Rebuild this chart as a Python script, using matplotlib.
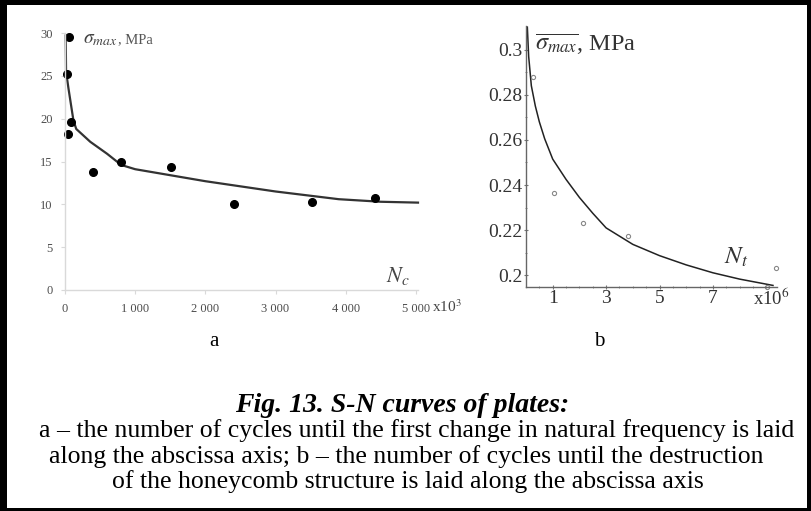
import matplotlib
matplotlib.use("Agg")
import matplotlib.pyplot as plt
from matplotlib.patches import Rectangle

plt.rcParams['font.family'] = ['Liberation Serif', 'DejaVu Serif']
plt.rcParams['mathtext.fontset'] = 'stix'

# panel a: cycles until first change in natural frequency (x10^3)
a_pts_x = [60, 30, 90, 40, 395, 800, 1505, 2410, 3515, 4420]
a_pts_y = [29.5, 25.2, 19.6, 18.2, 13.8, 14.9, 14.4, 10.0, 10.3, 10.7]
a_curve_x = [10, 15, 50, 120, 160, 360, 600, 800, 1000, 2000, 3000, 3900, 4500, 5030]
a_curve_y = [29.7, 25.5, 23.5, 19.8, 18.8, 17.3, 15.9, 14.6, 14.1, 12.7, 11.5, 10.6, 10.3, 10.2]
a_xticks = [0, 1000, 2000, 3000, 4000, 5000]
a_xlabels = ['0', '1 000', '2 000', '3 000', '4 000', '5 000']
a_yticks = [0, 5, 10, 15, 20, 25, 30]

# panel b: cycles until destruction (x10^6)
b_pts_x = [0.25, 1.04, 2.15, 3.82, 9.35, 9.04]
b_pts_y = [0.2879, 0.2363, 0.2233, 0.2173, 0.2032, 0.1946]
b_curve_x = [0.05, 0.1, 0.2, 0.35, 0.5, 0.7, 1.0, 1.5, 2.0, 2.5, 3.0, 4.0, 5.0, 6.0, 7.0, 8.0, 9.25]
b_curve_y = [0.310, 0.297, 0.284, 0.275, 0.268, 0.2605, 0.2515, 0.2425, 0.2345, 0.2275,
             0.2210, 0.2137, 0.2087, 0.2046, 0.2011, 0.1983, 0.1955]
b_xticks = [1, 3, 5, 7]
b_yticks = [0.2, 0.22, 0.24, 0.26, 0.28, 0.3]
b_ylabels = ['0.2', '0.22', '0.24', '0.26', '0.28', '0.3']

W, H = 811, 511
fig = plt.figure(figsize=(W / 100, H / 100), dpi=100)


def px(x0, y0, x1, y1):
    # pixel box -> figure fraction rect
    return [x0 / W, 1 - y1 / H, (x1 - x0) / W, (y1 - y0) / H]


# --- panel a ---
ax1 = fig.add_axes(px(65, 33, 418, 290))
ax1.plot(a_curve_x, a_curve_y, color='#333333', lw=1.6, clip_on=False)
ax1.plot(a_pts_x, a_pts_y, 'o', color='black', ms=5.5, clip_on=False)
ax1.set_xlim(0, 5030)
ax1.set_ylim(0, 30)
ax1.set_xticks(a_xticks)
ax1.set_xticklabels(a_xlabels)
ax1.set_yticks(a_yticks)
for s in ['top', 'right']:
    ax1.spines[s].set_visible(False)
for s in ['left', 'bottom']:
    ax1.spines[s].set_color('#d9d9d9')
    ax1.spines[s].set_linewidth(1.0)
ax1.tick_params(colors='#d9d9d9', labelcolor='#4d4d4d', labelsize=9, length=3, pad=6)
ax1.text(250, 29.2, r'$\sigma_{max}$', fontsize=14, color='#444444', va='center')
ax1.text(760, 29.2, ', MPa', fontsize=10.5, color='#555555', va='center')
ax1.text(4750, 1.6, r'$N_c$', fontsize=16, color='#444444', ha='center', va='center')
fig.text(432 / W, 1 - 307 / H, r'x10$^3$', fontsize=11, color='#444444', va='center')

# --- panel b ---
ax2 = fig.add_axes(px(526, 26, 777, 287))
ax2.plot(b_curve_x, b_curve_y, color='#222222', lw=1.1)
ax2.plot(b_pts_x, b_pts_y, 'o', mfc='none', mec='#888888', ms=3, mew=0.8, clip_on=False)
ax2.set_xlim(0, 9.4)
ax2.set_ylim(0.1948, 0.3105)
ax2.set_xticks(b_xticks)
ax2.set_xticks([v * 0.5 for v in range(1, 19)], minor=True)
ax2.set_yticks(b_yticks)
ax2.set_yticklabels(b_ylabels)
ax2.set_yticks([0.21, 0.23, 0.25, 0.27, 0.29], minor=True)
for s in ['top', 'right']:
    ax2.spines[s].set_visible(False)
for s in ['left', 'bottom']:
    ax2.spines[s].set_color('#666666')
    ax2.spines[s].set_linewidth(1.0)
ax2.tick_params(which='both', colors='#777777', labelcolor='#333333', labelsize=14,
                length=3, pad=1, direction='inout')
ax2.tick_params(which='minor', length=2)
ax2.text(0.35, 0.3022, r'$\overline{\sigma_{max}}$, MPa', fontsize=17.5, color='#333333',
         va='center')
ax2.text(7.87, 0.2078, r'$N_t$', fontsize=18, color='#333333', ha='center', va='center')
fig.text(753 / W, 1 - 298 / H, r'x10$^6$', fontsize=13.5, color='#333333', va='center')

# sub-labels and caption
fig.text(214 / W, 1 - 342 / H, 'a', fontsize=15, ha='center', va='center')
fig.text(599 / W, 1 - 342 / H, 'b', fontsize=15, ha='center', va='center')
fig.text(402 / W, 1 - 405 / H, 'Fig. 13. S-N curves of plates:', fontsize=20,
         fontweight='bold', fontstyle='italic', ha='center', va='center')
caption = ['a \u2013 the number of cycles until the first change in natural frequency is laid',
           'along the abscissa axis; b \u2013 the number of cycles until the destruction',
           'of the honeycomb structure is laid along the abscissa axis']
caption_y = [431, 457, 482]
caption_x = [417, 406, 408]
for line, xx, yy in zip(caption, caption_x, caption_y):
    fig.text(xx / W, 1 - yy / H, line, fontsize=18.5, ha='center', va='center')

# black frame round the figure
for x0, y0, w, h in [(0, 0, 7, H), (0, 0, W, 5), (W - 4, 0, 4, H), (0, H - 3, W, 3)]:
    fig.add_artist(Rectangle((x0 / W, 1 - (y0 + h) / H), w / W, h / H,
                             transform=fig.transFigure, color='black', lw=0))

fig.savefig('out.png', dpi=100)
